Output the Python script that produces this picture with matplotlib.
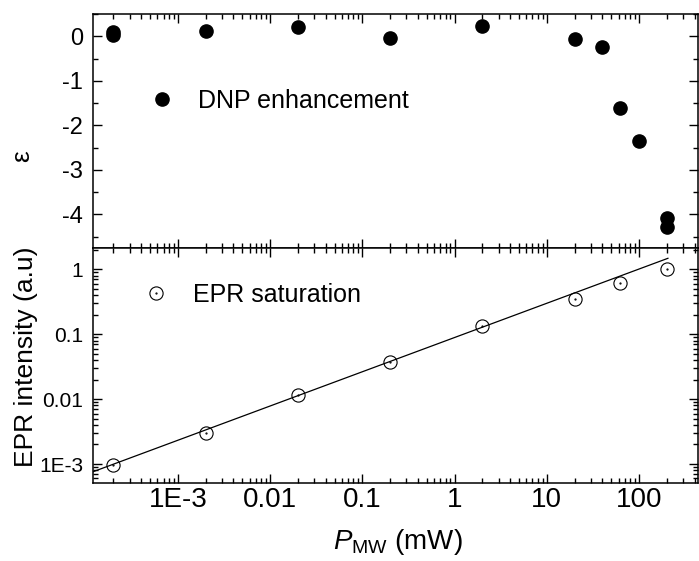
import matplotlib
matplotlib.use('Agg')
import matplotlib.pyplot as plt
from matplotlib.ticker import FixedLocator, FixedFormatter, LogLocator, NullFormatter, MultipleLocator

plt.rcParams['font.family'] = ['Liberation Sans', 'DejaVu Sans']
plt.rcParams['mathtext.fontset'] = 'custom'
plt.rcParams['mathtext.rm'] = 'Liberation Sans'
plt.rcParams['mathtext.it'] = 'Liberation Sans:italic'
plt.rcParams['axes.unicode_minus'] = False

# DNP enhancement (top panel)
dnp_power = [2e-4, 2e-4, 2e-3, 0.02, 0.2, 2, 20, 40, 63, 100, 200, 200]
dnp_eps = [0.10, 0.02, 0.12, 0.21, -0.03, 0.24, -0.06, -0.24, -1.61, -2.34, -4.07, -4.28]

# EPR saturation (bottom panel)
epr_power = [2e-4, 2e-3, 0.02, 0.2, 2, 20, 63, 200]
epr_int = [0.00097, 0.0030, 0.0114, 0.037, 0.135, 0.35, 0.61, 1.02]

# straight line (log-log) drawn through the EPR points
fit_power = [1.2e-4, 206]
fit_int = [7.6e-4, 1.48]

x_ticks = [1e-3, 0.01, 0.1, 1, 10, 100]
x_labels = ['1E-3', '0.01', '0.1', '1', '10', '100']
eps_ticks = [0, -1, -2, -3, -4]
eps_labels = ['0', '-1', '-2', '-3', '-4']
epr_ticks = [1e-3, 0.01, 0.1, 1]
epr_labels = ['1E-3', '0.01', '0.1', '1']

fig = plt.figure(figsize=(6.99, 5.61), dpi=100)
W, H = 699.0, 561.0
left, right = 93 / W, 697.5 / W
ax1 = fig.add_axes([left, (H - 248.3) / H, right - left, (248.3 - 14) / H])
ax2 = fig.add_axes([left, (H - 483) / H, right - left, (483 - 248.3) / H])

for ax in (ax1, ax2):
    ax.set_xscale('log')
    ax.set_xlim(1.2e-4, 431)
    for s in ax.spines.values():
        s.set_linewidth(1.1)
    ax.xaxis.set_major_locator(FixedLocator(x_ticks))
    ax.xaxis.set_minor_locator(LogLocator(base=10, subs=range(2, 10), numticks=20))
    ax.tick_params(which='both', direction='in', top=True, right=True, width=1.0)
    ax.tick_params(which='major', length=6.5)
    ax.tick_params(which='minor', length=3.5)
    ax.tick_params(axis='x', which='both', labelsize=20, pad=3)

ax1.tick_params(axis='y', which='both', labelsize=17, pad=7)
ax2.tick_params(axis='y', which='both', labelsize=15, pad=7)

# top panel
ax1.plot(dnp_power, dnp_eps, 'o', color='black', ms=9.5, ls='none', label='DNP enhancement')
ax1.set_ylim(-4.76, 0.5)
ax1.yaxis.set_major_locator(FixedLocator(eps_ticks))
ax1.yaxis.set_major_formatter(FixedFormatter(eps_labels))
ax1.yaxis.set_minor_locator(MultipleLocator(0.5))
ax1.xaxis.set_major_formatter(NullFormatter())
ax1.xaxis.set_minor_formatter(NullFormatter())
ax1.legend(loc='center left', bbox_to_anchor=(0.093, 0.63), frameon=False, fontsize=18,
           handlelength=1.0, handletextpad=0.95, borderpad=0, borderaxespad=0, numpoints=1)

# bottom panel
ax2.plot(fit_power, fit_int, '-', color='black', lw=0.9)
circ, = ax2.plot(epr_power, epr_int, 'o', mfc='none', mec='black', mew=0.8, ms=9.5, ls='none')
dot, = ax2.plot(epr_power, epr_int, '.', color='black', ms=1.2, ls='none')
ax2.set_yscale('log')
ax2.set_ylim(5.1e-4, 2.11)
ax2.yaxis.set_major_locator(FixedLocator(epr_ticks))
ax2.yaxis.set_major_formatter(FixedFormatter(epr_labels))
ax2.yaxis.set_minor_locator(LogLocator(base=10, subs=range(2, 10), numticks=20))
ax2.yaxis.set_minor_formatter(NullFormatter())
ax2.xaxis.set_major_formatter(FixedFormatter(x_labels))
ax2.xaxis.set_minor_formatter(NullFormatter())
ax2.legend([(circ, dot)], ['EPR saturation'], loc='center left', bbox_to_anchor=(0.084, 0.80),
           frameon=False, fontsize=18, handlelength=1.0, handletextpad=0.95,
           borderpad=0, borderaxespad=0, numpoints=1)

# axis labels
fig.text(22 / W, 1 - 156 / H, '\u03b5', rotation=90, ha='center', va='center', fontsize=19)
fig.text(26 / W, 1 - 357 / H, 'EPR intensity (a.u)', rotation=90, ha='center', va='center', fontsize=19)
fig.text(398 / W, 1 - 542 / H, r'$P_{\mathrm{MW}}$ (mW)', ha='center', va='center', fontsize=20)

fig.savefig('out.png', dpi=100)
